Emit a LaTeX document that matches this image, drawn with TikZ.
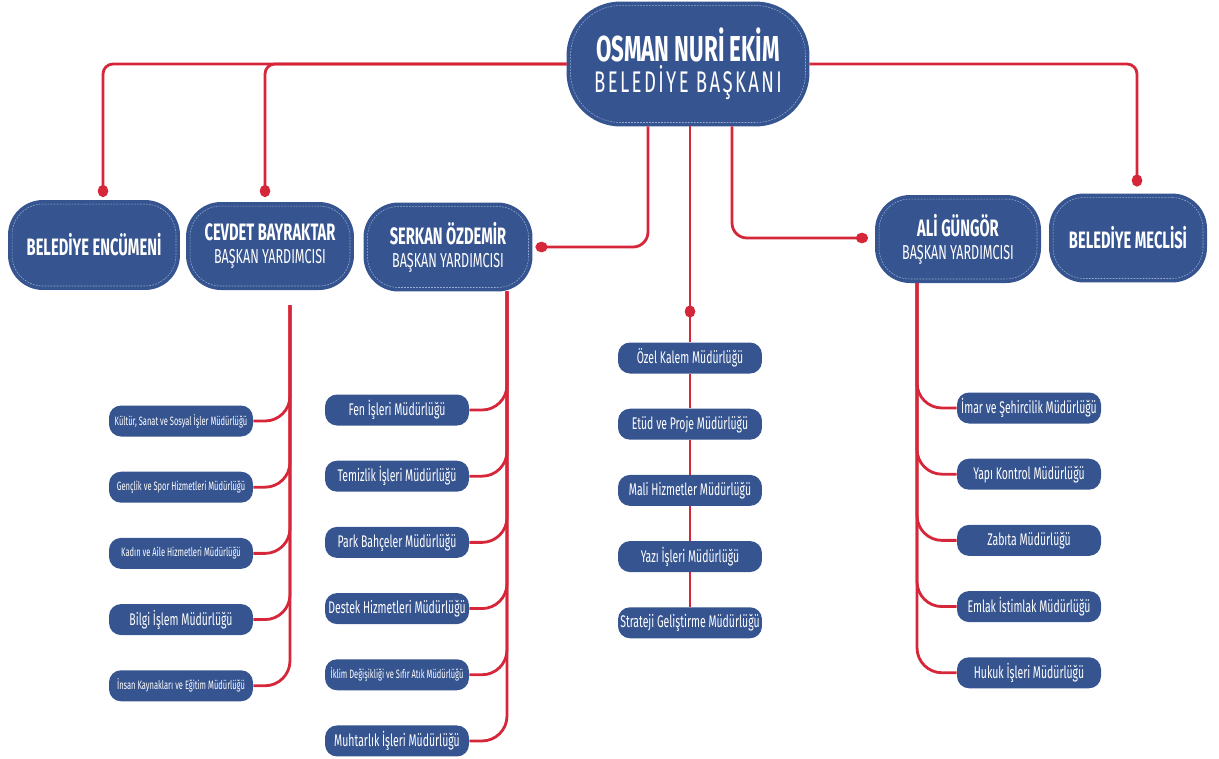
\documentclass[tikz,border=0pt]{standalone}
\usepackage{fontspec}
\setmainfont{Fira Sans}
\newfontfamily\orgfont{Fira Sans}[FakeStretch=0.62]
\usetikzlibrary{arrows.meta,positioning,calc}
\definecolor{boxblue}{RGB}{54,84,143}
\definecolor{linkred}{RGB}{214,38,58}
\definecolor{dashline}{RGB}{150,172,210}

\begin{document}
\begin{tikzpicture}[x=0.02cm,y=-0.02cm,
    head/.style={rounded corners=0.62cm,fill=boxblue,draw=dashline,line width=0.3pt,
      dash pattern=on 1pt off 0.7pt,preaction={draw=boxblue,line width=0.16cm,solid},
      outer sep=0.08cm,text=white,font=\orgfont,align=center,inner sep=0pt},
    dept/.style={rounded corners=0.24cm,fill=boxblue,text=white,
      font=\orgfont\fontsize{9.6}{10}\selectfont,minimum width=2.88cm,
      minimum height=0.62cm,inner sep=0pt},
    deptlong/.style={dept,font=\orgfont\fontsize{6.9}{8}\selectfont},
    link/.style={draw=linkred,line width=1.6pt},
    dot/.style={-{Circle[length=0.24cm,width=0.21cm]}},
    node distance=0.69cm]
    \useasboundingbox (0,0) rectangle (1219,758);

    %top row
    \node[head,minimum width=4.7cm,minimum height=2.34cm,rounded corners=1.0cm] (baskan) at (688,64)
      {{\fontsize{20.5}{24}\selectfont\bfseries OSMAN NURİ EKİM}\\[1pt]
       {\fontsize{17}{20}\selectfont\addfontfeatures{LetterSpace=8}BELEDİYE BAŞKANI}};

    %second row
    \node[head,minimum width=3.28cm,minimum height=1.64cm] (encumen) at (94,245)
      {\fontsize{13.5}{15}\selectfont\bfseries BELEDİYE ENCÜMENİ};
    \node[head,minimum width=3.2cm,minimum height=1.6cm] (cevdet) at (270,246)
      {{\fontsize{13.5}{15}\selectfont\bfseries CEVDET BAYRAKTAR}\\[1pt]
       {\fontsize{11.5}{13}\selectfont BAŞKAN YARDIMCISI}};
    \node[head,minimum width=3.22cm,minimum height=1.62cm] (serkan) at (448,247)
      {{\fontsize{13.5}{15}\selectfont\bfseries SERKAN ÖZDEMİR}\\[1pt]
       {\fontsize{11.5}{13}\selectfont BAŞKAN YARDIMCISI}};
    \node[head,minimum width=3.16cm,minimum height=1.6cm] (ali) at (958,239)
      {{\fontsize{13.5}{15}\selectfont\bfseries ALİ GÜNGÖR}\\[1pt]
       {\fontsize{11.5}{13}\selectfont BAŞKAN YARDIMCISI}};
    \node[head,minimum width=3.0cm,minimum height=1.62cm] (meclis) at (1128,238)
      {\fontsize{13.5}{15}\selectfont\bfseries BELEDİYE MECLİSİ};

    %cevdet column
    \node[deptlong] (kultur) at (181,421) {Kültür, Sanat ve Sosyal İşler Müdürlüğü};
    \node[deptlong] (genclik) [below =of kultur] {Gençlik ve Spor Hizmetleri Müdürlüğü};
    \node[deptlong] (kadin) [below =of genclik] {Kadın ve Aile Hizmetleri Müdürlüğü};
    \node[dept] (bilgi) [below =of kadin] {Bilgi İşlem Müdürlüğü};
    \node[deptlong] (insan) [below =of bilgi] {İnsan Kaynakları ve Eğitim Müdürlüğü};

    %serkan column
    \node[dept] (fen) at (397,410) {Fen İşleri Müdürlüğü};
    \node[dept] (temizlik) [below =of fen] {Temizlik İşleri Müdürlüğü};
    \node[dept] (park) [below =of temizlik] {Park Bahçeler Müdürlüğü};
    \node[dept] (destek) [below =of park] {Destek Hizmetleri Müdürlüğü};
    \node[deptlong] (iklim) [below =of destek] {İklim Değişikliği ve Sıfır Atık Müdürlüğü};
    \node[dept] (muhtarlik) [below =of iklim] {Muhtarlık İşleri Müdürlüğü};

    %center column
    \node[dept] (ozel) at (690,358) {Özel Kalem Müdürlüğü};
    \node[dept] (etud) [below =of ozel] {Etüd ve Proje Müdürlüğü};
    \node[dept] (mali) [below =of etud] {Mali Hizmetler Müdürlüğü};
    \node[dept] (yazi) [below =of mali] {Yazı İşleri Müdürlüğü};
    \node[dept] (strateji) [below =of yazi] {Strateji Geliştirme Müdürlüğü};

    %ali column
    \node[dept] (imar) at (1029,408) {İmar ve Şehircilik Müdürlüğü};
    \node[dept] (yapi) [below =of imar] {Yapı Kontrol Müdürlüğü};
    \node[dept] (zabita) [below =of yapi] {Zabıta Müdürlüğü};
    \node[dept] (emlak) [below =of zabita] {Emlak İstimlak Müdürlüğü};
    \node[dept] (hukuk) [below =of emlak] {Hukuk İşleri Müdürlüğü};

    %bus points
    \coordinate (cevdetbus) at ($(cevdet.south)+(20,15)$);
    \coordinate (serkanbus) at ($(serkan.south)+(59,0)$);
    \coordinate (alibus) at ($(ali.south)+(-41,0)$);
    \coordinate (hub) at ($(baskan.south)+(2,191)$);

    %baskan to second row
    \draw[link,dot,rounded corners=0.2cm] (baskan.west) -| ($(encumen.north)+(9,-3)$);
    \draw[link,dot,rounded corners=0.2cm] (baskan.west) -| ($(cevdet.north)+(-5,-5)$);
    \draw[link,dot,rounded corners=0.2cm] (baskan.east) -| ($(meclis.north)+(9,-7)$);
    \draw[link,dot,rounded corners=0.3cm] ($(baskan.south)+(-40,0)$) |- ($(serkan.east)+(3,0)$);
    \draw[link,dot,rounded corners=0.3cm] ($(baskan.south)+(44,0)$) |- ($(ali.west)+(-7,-1)$);
    \draw[link,dot] ($(baskan.south)+(2,0)$) -- (hub);

    %center chain
    \draw[link] (hub) -- (ozel);
    \foreach \a/\b in {ozel/etud,etud/mali,mali/yazi,yazi/strateji}
      \draw[link] (\a) -- (\b);

    %branches
    \foreach \d in {kultur,genclik,kadin,bilgi,insan}
      \draw[link,rounded corners=0.5cm] (cevdetbus) |- (\d.east);
    \foreach \d in {fen,temizlik,park,destek,iklim,muhtarlik}
      \draw[link,rounded corners=0.5cm] (serkanbus) |- (\d.east);
    \foreach \d in {imar,yapi,zabita,emlak,hukuk}
      \draw[link,rounded corners=0.5cm] (alibus) |- (\d.west);

\end{tikzpicture}
\end{document}
